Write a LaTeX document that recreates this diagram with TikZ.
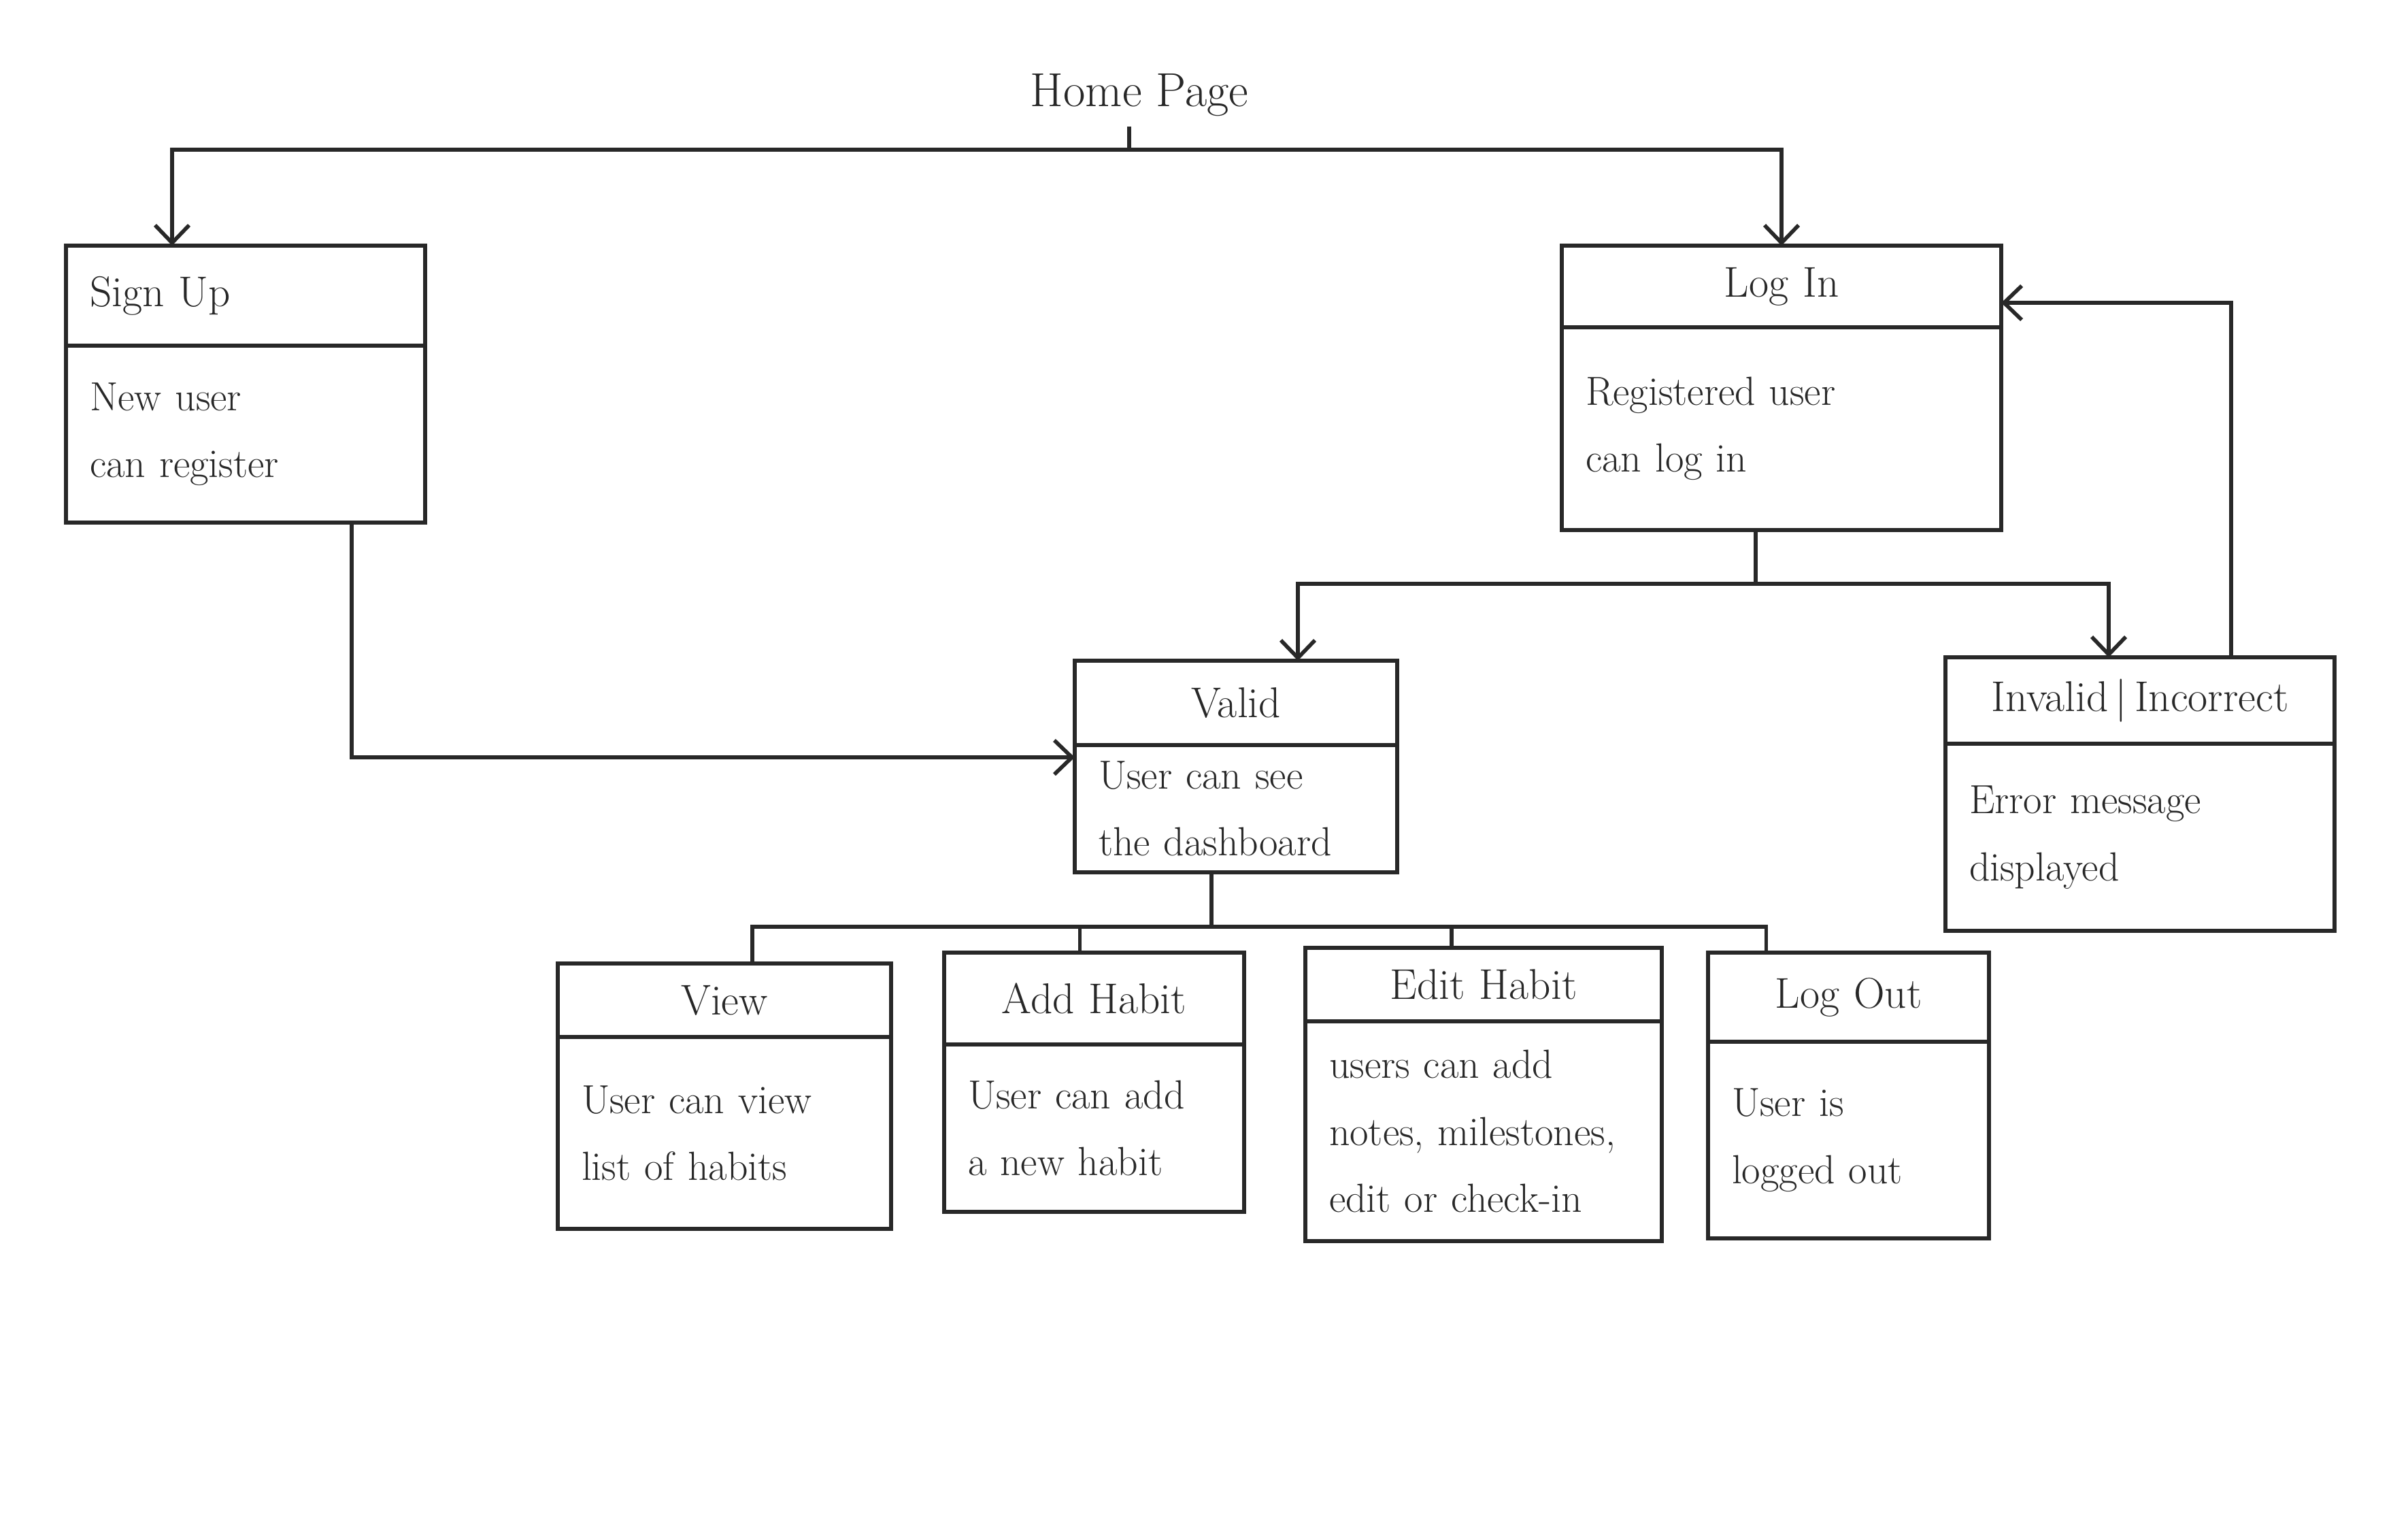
\documentclass[tikz,border=0pt]{standalone}
\usepackage{tikz}
\usetikzlibrary{positioning,arrows.meta}
\definecolor{inkgray}{RGB}{40,40,40}

\begin{document}
\begin{tikzpicture}[>={Straight Barb[length=2.6mm,width=5mm]}, line width=1.6pt, color=inkgray]
    \tikzstyle{boxhead} = [rectangle, draw=inkgray, outer sep=0pt, inner xsep=0.35cm, align=center, font=\fontsize{18}{24}\selectfont]
    \tikzstyle{boxbody} = [rectangle, draw=inkgray, outer sep=0pt, inner xsep=0.35cm, align=left, font=\fontsize{17}{28}\selectfont]
    \useasboundingbox (0,0) rectangle (35.4,-22.27);

    % Start
    \node [font=\fontsize{20}{24}\selectfont] (home) at (16.75,-1.40) {Home Page};
    \coordinate (hub) at (16.60,-2.20);

    % Sign up and log in
    \node [boxhead, text width=4.58cm, minimum height=1.47cm, align=left] (signup) at (3.61,-4.345) {Sign Up};
    \node [boxbody, text width=4.58cm, minimum height=2.60cm, below=0pt of signup] (signupbody) {New user\\can register};
    \node [boxhead, text width=5.76cm, minimum height=1.20cm] (login) at (26.19,-4.21) {Log In};
    \node [boxbody, text width=5.76cm, minimum height=2.98cm, below=0pt of login] (loginbody) {Registered user\\can log in};

    % Check of the login
    \node [boxhead, text width=4.04cm, minimum height=1.24cm] (valid) at (18.17,-10.33) {Valid};
    \node [boxbody, text width=4.04cm, minimum height=1.87cm, below=0pt of valid] (validbody) {User can see\\the dashboard};
    \node [boxhead, text width=5.02cm, minimum height=1.27cm] (invalid) at (31.46,-10.295) {Invalid\,\textbar\,Incorrect};
    \node [boxbody, text width=5.02cm, minimum height=2.75cm, below=0pt of invalid] (invalidbody) {Error message\\displayed};

    % Dashboard actions
    \node [boxhead, text width=4.20cm, minimum height=1.08cm] (view) at (10.65,-14.70) {View};
    \node [boxbody, text width=4.20cm, minimum height=2.82cm, below=0pt of view] (viewbody) {User can view\\list of habits};
    \node [boxhead, text width=3.71cm, minimum height=1.35cm] (addhabit) at (16.085,-14.675) {Add Habit};
    \node [boxbody, text width=3.71cm, minimum height=2.46cm, below=0pt of addhabit] (addhabitbody) {User can add\\a new habit};
    \node [boxhead, text width=4.54cm, minimum height=1.08cm] (edithabit) at (21.81,-14.47) {Edit Habit};
    \node [boxbody, text width=4.54cm, minimum height=3.23cm, below=0pt of edithabit] (edithabitbody) {users can add\\notes, milestones,\\edit or check-in};
    \node [boxhead, text width=3.43cm, minimum height=1.31cm] (logout) at (27.175,-14.655) {Log Out};
    \node [boxbody, text width=3.43cm, minimum height=2.89cm, below=0pt of logout] (logoutbody) {User is\\logged out};

    % Arrows
    \draw (hub |- home.south) -- (hub);
    \draw [->] (hub) -| ([xshift=-1.08cm]signup.north);
    \draw [->] (hub) -| (login.north);
    \draw [->] ([xshift=1.56cm]signupbody.south) |- ([yshift=-0.18cm]validbody.north west);
    \coordinate (split) at (25.81,-8.58);
    \draw ([xshift=-0.38cm]loginbody.south) -- (split);
    \draw [->] (split) -| ([xshift=0.91cm]valid.north);
    \draw [->] (split) -| ([xshift=-0.46cm]invalid.north);
    \draw [->] ([xshift=1.34cm]invalidbody.north |- invalid.north) |- ([yshift=-0.24cm]login.east);
    \coordinate (bus) at (17.81,-13.62);
    \draw ([xshift=-0.36cm]validbody.south) -- (bus);
    \draw (bus) -| ([xshift=0.41cm]view.north);
    \draw (bus) -| ([xshift=-0.21cm]addhabit.north);
    \draw (bus) -| ([xshift=-0.47cm]edithabit.north);
    \draw (bus) -| ([xshift=-1.21cm]logout.north);
\end{tikzpicture}
\end{document}
